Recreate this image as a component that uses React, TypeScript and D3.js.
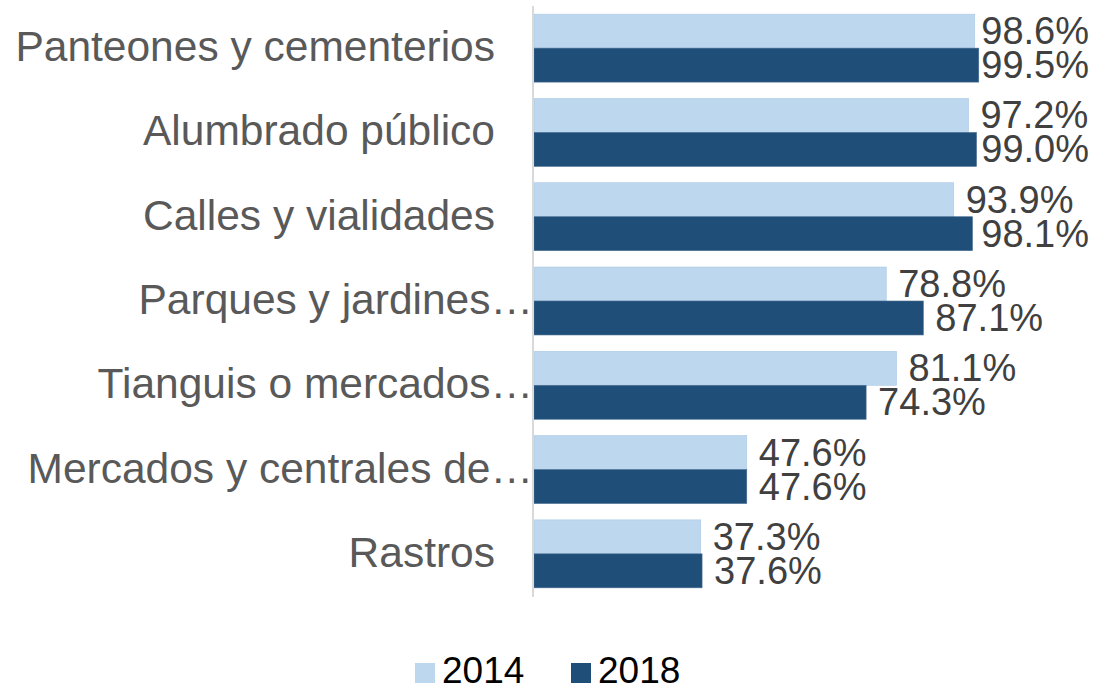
import { useEffect, useRef } from "react";
import * as d3 from "d3";

const categories = [
  "Panteones y cementerios",
  "Alumbrado público",
  "Calles y vialidades",
  "Parques y jardines…",
  "Tianguis o mercados…",
  "Mercados y centrales de…",
  "Rastros",
];
const values2014 = [98.6, 97.2, 93.9, 78.8, 81.1, 47.6, 37.3];
const values2018 = [99.5, 99.0, 98.1, 87.1, 74.3, 47.6, 37.6];
const seriesNames = ["2014", "2018"];

const App = () => {
  const svgRef = useRef<SVGSVGElement | null>(null);
  const width = 1094;
  const height = 688;

  useEffect(() => {
    if (!svgRef.current) return;
    const svg = d3.select(svgRef.current);
    svg.selectAll("*").remove();

    const colors = ["#BDD7EE", "#1F4E79"];
    const font = "'Liberation Sans', Arial, sans-serif";
    const labelRightLimit = 1089;

    // scales
    const x = d3.scaleLinear().domain([0, 100]).range([534, 981]);
    const y = d3
      .scaleBand<string>()
      .domain(categories)
      .range([6, 596])
      .paddingInner(0.194)
      .paddingOuter(0.097);
    const sub = d3.scaleBand<string>().domain(seriesNames).range([0, y.bandwidth()]);

    const series = [values2014, values2018];

    series.forEach((vals, si) => {
      const g = svg.append("g");
      g.selectAll("rect")
        .data(vals)
        .join("rect")
        .attr("x", x(0))
        .attr("y", (_, i) => (y(categories[i]) ?? 0) + (sub(seriesNames[si]) ?? 0))
        .attr("width", (d) => x(d) - x(0))
        .attr("height", sub.bandwidth())
        .attr("fill", colors[si])
        .attr("stroke", si === 0 ? "#A9C8E4" : "#4A6F93")
        .attr("stroke-width", 0.6);

      // value labels, pulled back inside the chart when they would run past the edge
      g.selectAll("text")
        .data(vals)
        .join("text")
        .attr("x", (d) => x(d) + 12)
        .attr("y", (_, i) => (y(categories[i]) ?? 0) + (sub(seriesNames[si]) ?? 0) + sub.bandwidth() / 2 + 13)
        .attr("font-family", font)
        .attr("font-size", 38)
        .attr("fill", "#404040")
        .text((d) => `${d.toFixed(1)}%`)
        .each(function (d) {
          const el = this as SVGTextElement;
          const w = el.getComputedTextLength();
          const start = x(d) + 12;
          if (start + w > labelRightLimit) el.setAttribute("x", String(labelRightLimit - w));
        });
    });

    // axis line
    svg
      .append("line")
      .attr("x1", 533)
      .attr("x2", 533)
      .attr("y1", 6)
      .attr("y2", 597)
      .attr("stroke", "#D9D9D9")
      .attr("stroke-width", 2);

    // category labels
    svg
      .append("g")
      .selectAll("text")
      .data(categories)
      .join("text")
      .attr("x", (d) => (d.endsWith("…") ? 533 : 495))
      .attr("y", (d) => (y(d) ?? 0) + y.bandwidth() / 2 + 13)
      .attr("text-anchor", "end")
      .attr("font-family", font)
      .attr("font-size", 42.5)
      .attr("fill", "#595959")
      .text((d) => d);

    // legend
    const legendX = [415, 571];
    seriesNames.forEach((name, i) => {
      svg
        .append("rect")
        .attr("x", legendX[i])
        .attr("y", 663)
        .attr("width", 20)
        .attr("height", 20)
        .attr("fill", colors[i]);
      svg
        .append("text")
        .attr("x", legendX[i] + 27)
        .attr("y", 683)
        .attr("font-family", font)
        .attr("font-size", 37)
        .attr("fill", "#000000")
        .text(name);
    });
  }, []);

  return (
    <div style={{ position: "absolute", left: 0, top: 0, width: `${width}px`, height: `${height}px`, overflow: "hidden", background: "#fff" }}>
      <svg ref={svgRef} width={width} height={height} viewBox={`0 0 ${width} ${height}`} style={{ display: "block" }} />
    </div>
  );
};

export default App;
